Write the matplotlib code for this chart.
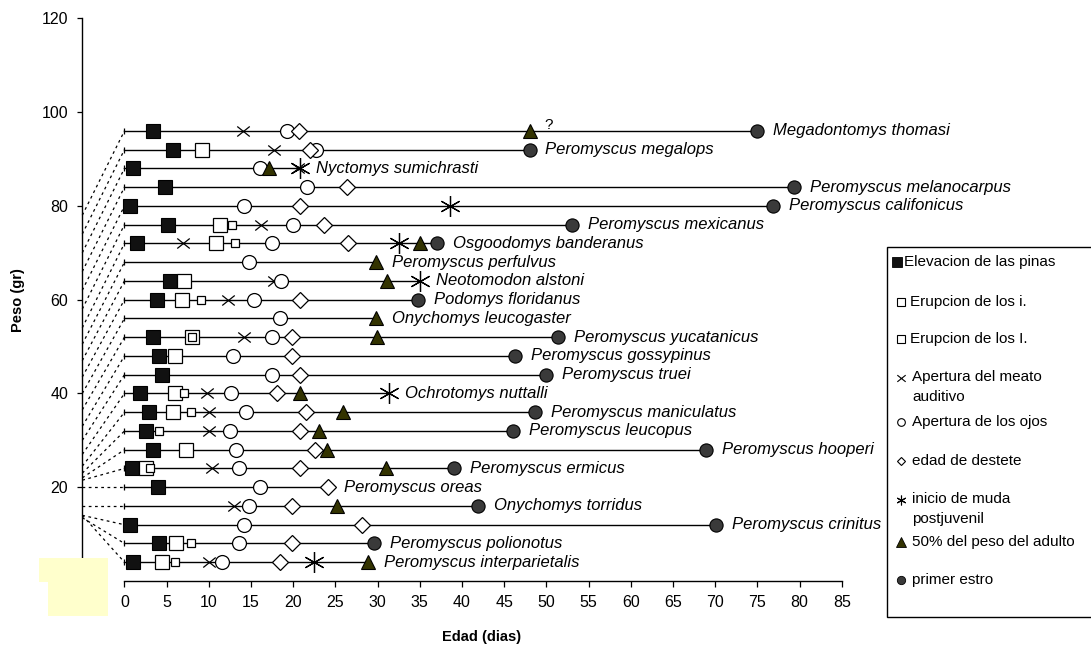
import numpy as np
import matplotlib
matplotlib.use("Agg")
import matplotlib.pyplot as plt
from matplotlib.path import Path
from matplotlib.patches import Polygon, Rectangle
from matplotlib.lines import Line2D

plt.rcParams['font.family'] = ['Liberation Sans', 'DejaVu Sans']

nan = np.nan

# ---------------- data ----------------
species = ["Megadontomys thomasi", "Peromyscus megalops", "Nyctomys sumichrasti",
           "Peromyscus melanocarpus", "Peromyscus califonicus", "Peromyscus mexicanus",
           "Osgoodomys banderanus", "Peromyscus perfulvus", "Neotomodon alstoni",
           "Podomys floridanus", "Onychomys leucogaster", "Peromyscus yucatanicus",
           "Peromyscus gossypinus", "Peromyscus truei", "Ochrotomys nuttalli",
           "Peromyscus maniculatus", "Peromyscus leucopus", "Peromyscus hooperi",
           "Peromyscus ermicus", "Peromyscus oreas", "Onychomys torridus",
           "Peromyscus crinitus", "Peromyscus polionotus", "Peromyscus interparietalis"]

# adult weight (g) where each species' dashed line meets the y axis
peso = [78, 74, 70, 66, 62, 58, 54, 50.5, 47, 43.5, 40, 36.5, 33, 30, 27,
        24.5, 23, 22, 21.5, 20, 16, 14, 13.5, 14]

# ages (days) of each developmental event, per species
pinas      = [3.4, 5.8, 1.0, 4.8, 0.7, 5.2, 1.5, nan, 5.4, 3.9, nan, 3.4,
              4.1, 4.5, 1.8, 2.9, 2.5, 3.4, 0.9, 4.0, nan, 0.6, 4.1, 1.0]
incisivos  = [nan, 9.2, nan, nan, nan, 11.3, 10.9, nan, 7.0, 6.8, nan, 8.0,
              6.0, nan, 6.0, 5.7, nan, 7.3, 2.5, nan, nan, nan, 6.1, 4.4]
incisivos2 = [nan, nan, nan, nan, nan, 12.8, 13.1, nan, nan, 9.1, nan, 8.0,
              nan, nan, 7.1, 7.9, 4.1, nan, 3.0, nan, nan, nan, 7.9, 6.0]
meato      = [14.0, 17.7, 20.6, nan, nan, 16.2, 6.9, nan, 17.7, 12.3, nan, 14.2,
              nan, nan, 9.8, 10.0, 10.0, nan, 10.4, nan, 13.0, nan, nan, 10.0]
ojos       = [19.3, 22.7, 16.1, 21.6, 14.2, 20.0, 17.5, 14.7, 18.6, 15.4, 18.4, 17.5,
              12.9, 17.5, 12.6, 14.4, 12.5, 13.2, 13.6, 16.1, 14.8, 14.2, 13.6, 11.5]
destete    = [20.7, 22.0, nan, 26.4, 20.8, 23.6, 26.5, nan, nan, 20.8, nan, 19.9,
              19.9, 20.8, 18.1, 21.5, 20.8, 22.6, 20.8, 24.1, 19.8, 28.1, 19.9, 18.4]
muda       = [nan, nan, 20.8, nan, 38.6, nan, 32.5, nan, 35.0, nan, nan, nan,
              nan, nan, 31.4, nan, nan, nan, nan, nan, nan, nan, nan, 22.5]
peso50     = [48.0, nan, 17.1, nan, nan, nan, 35.0, 29.8, 31.1, nan, 29.8, 29.9,
              nan, nan, 20.8, 25.9, 23.0, 24.0, 31.0, nan, 25.2, nan, nan, 28.9]
estro      = [75.0, 48.0, nan, 79.3, 76.9, 53.0, 37.0, nan, nan, 34.8, nan, 51.4,
              46.3, 50.0, nan, 48.7, 46.1, 68.9, 39.1, nan, 41.9, 70.1, 29.6, nan]

xticks = list(range(0, 90, 5))
yticks = list(range(0, 140, 20))

legend_labels = ["Elevacion de las pinas", "Erupcion de los i.", "Erupcion de los I.",
                 "Apertura del meato\nauditivo", "Apertura de los ojos", "edad de destete",
                 "inicio de muda\npostjuvenil", "50% del peso del adulto", "primer estro"]

# ---------------- figure ----------------
W, H = 1091, 646
fig = plt.figure(figsize=(W / 100, H / 100), dpi=100)
fig.patch.set_facecolor("white")

def fx(x):
    return x / W

def fy(y):
    return 1 - y / H

ax = fig.add_axes([fx(82.3), fy(581), (841.7 - 82.3) / W, (581 - 18.3) / H])
ax.set_xlim(-5, 85)
ax.set_ylim(0, 120)
ax.set_facecolor("none")
for s in ["top", "right"]:
    ax.spines[s].set_visible(False)
ax.spines["bottom"].set_bounds(0, 85)
ax.spines["left"].set_linewidth(1.0)
ax.spines["bottom"].set_linewidth(1.0)
ax.set_xticks(xticks)
ax.set_yticks(yticks)
ax.tick_params(axis="x", direction="out", length=4.3, width=0.9, labelsize=11.5, pad=6)
ax.tick_params(axis="y", direction="out", length=3.6, width=0.9, labelsize=11.5, pad=6.5)

n = len(species)
rows = [96 - 4 * i for i in range(n)]

events = [pinas, incisivos, incisivos2, meato, ojos, destete, muda, peso50, estro]
ends = [np.nanmax([ev[i] for ev in events]) for i in range(n)]

# dashed connectors from weight to row
for i in range(n):
    ax.plot([-5, 0], [peso[i], rows[i]], ls=(0, (2.2, 2.8)), lw=0.9, color="black",
            zorder=1, clip_on=False)
# row lines
for i in range(n):
    ax.plot([0, ends[i]], [rows[i], rows[i]], color="black", lw=1.0, zorder=2)
    ax.plot([0], [rows[i]], marker="|", ms=5, color="black", mew=0.9, zorder=2)

xpath = Path([(-1, -0.8), (1, 0.8), (-1, 0.8), (1, -0.8)],
             [Path.MOVETO, Path.LINETO, Path.MOVETO, Path.LINETO])

styles = [
    dict(marker="s", ms=9.5, mfc="#111111", mec="black", mew=0.8),
    dict(marker="s", ms=10.5, mfc="white", mec="black", mew=0.9),
    dict(marker="s", ms=6.0, mfc="white", mec="black", mew=0.9),
    dict(marker=xpath, ms=9.0, mfc="none", mec="black", mew=0.9),
    dict(marker="o", ms=10, mfc="white", mec="black", mew=0.9),
    dict(marker="D", ms=8.3, mfc="white", mec="black", mew=0.9),
    dict(marker=(6, 2, 0), ms=15, mfc="none", mec="black", mew=0.9),
    dict(marker="^", ms=10.5, mfc="#333300", mec="black", mew=0.8),
    dict(marker="o", ms=9.5, mfc="#3a3a3a", mec="black", mew=0.8),
]

for k, (ev, st) in enumerate(zip(events, styles)):
    ax.plot(ev, rows, ls="none", zorder=3 + k, clip_on=False, **st)

# species labels
for i in range(n):
    ax.annotate(species[i], xy=(ends[i], rows[i]), xytext=(11.5, 0),
                textcoords="offset points", ha="left", va="center",
                fontsize=12, style="italic", zorder=20, annotation_clip=False)

ax.annotate("?", xy=(peso50[0], rows[0]), xytext=(11, 4), textcoords="offset points",
            ha="left", va="center", fontsize=11)

# axis labels
fig.text(fx(18), fy(300), "Peso (gr)", rotation=90, ha="center", va="center",
         fontsize=10.5, fontweight="bold")
fig.text(fx(482), fy(637), "Edad (dias)", ha="center", va="center",
         fontsize=10.5, fontweight="bold")

# yellow patch in lower-left corner
yellow = Polygon([(fx(39), fy(558)), (fx(108), fy(558)), (fx(108), fy(616)),
                  (fx(48), fy(616)), (fx(48), fy(582)), (fx(39), fy(582))],
                 closed=True, transform=fig.transFigure, facecolor="#FFFFCC",
                 edgecolor="none", zorder=50)
fig.add_artist(yellow)

# manual legend box (runs off the right edge as in the original)
box = Rectangle((fx(887), fy(617)), (1200 - 887) / W, (617 - 247) / H,
                transform=fig.transFigure, facecolor="white", edgecolor="black",
                lw=1.0, zorder=40)
fig.add_artist(box)

leg_y = [262, 302, 339, 378, 422, 461, 500, 542, 580]
leg_styles = [
    dict(marker="s", ms=6.5, mfc="#111111", mec="black", mew=0.6),
    dict(marker="s", ms=5.5, mfc="white", mec="black", mew=0.8),
    dict(marker="s", ms=5.5, mfc="white", mec="black", mew=0.8),
    dict(marker=xpath, ms=6, mfc="none", mec="black", mew=0.8),
    dict(marker="o", ms=5.5, mfc="white", mec="black", mew=0.8),
    dict(marker="D", ms=4.5, mfc="white", mec="black", mew=0.8),
    dict(marker=(6, 2, 0), ms=7, mfc="none", mec="black", mew=0.8),
    dict(marker="^", ms=6.5, mfc="#333300", mec="black", mew=0.6),
    dict(marker="o", ms=6, mfc="#3a3a3a", mec="black", mew=0.6),
]
leg_mx = [897, 901, 901, 901, 901, 901, 901, 901, 901]
leg_tx = [904, 910, 910, 912, 912, 912, 912, 912, 912]
for lab, yy, st, mx, tx in zip(legend_labels, leg_y, leg_styles, leg_mx, leg_tx):
    fig.add_artist(Line2D([fx(mx)], [fy(yy)], transform=fig.transFigure,
                          ls="none", zorder=41, **st))
    if "\n" in lab:
        fig.text(fx(tx), fy(yy - 8), lab, ha="left", va="top", fontsize=11,
                 zorder=42, linespacing=1.55)
    else:
        fig.text(fx(tx), fy(yy), lab, ha="left", va="center", fontsize=11, zorder=42)

fig.savefig("out.png", dpi=100)
